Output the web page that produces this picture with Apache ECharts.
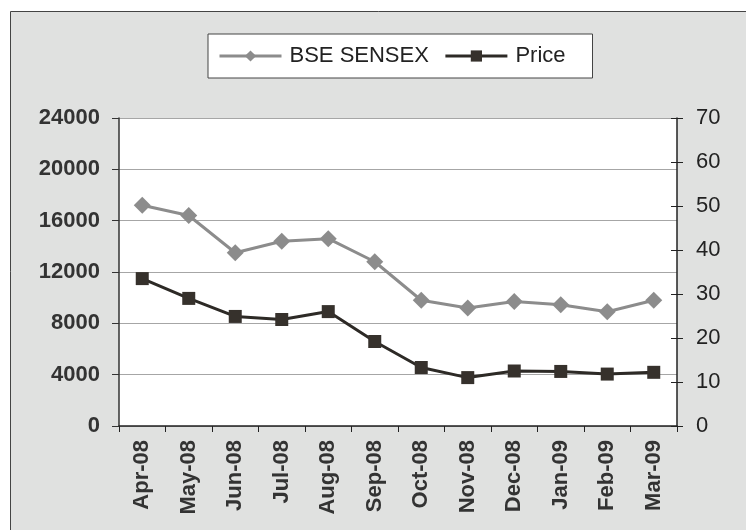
<!DOCTYPE html>
<html><head><meta charset="utf-8">
<script src="https://cdn.jsdelivr.net/npm/echarts@6/dist/echarts.min.js"></script>
<style>html,body{margin:0;padding:0;background:#fff}#c{width:746px;height:530px}</style>
</head><body><div id="c"></div>
<script>
const categories = ['Apr-08','May-08','Jun-08','Jul-08','Aug-08','Sep-08','Oct-08','Nov-08','Dec-08','Jan-09','Feb-09','Mar-09'];
const sensex = [17200,16400,13500,14400,14600,12800,9800,9200,9700,9450,8900,9800];
const price = [33.5,29.0,24.9,24.2,26.0,19.2,13.3,11.0,12.5,12.4,11.8,12.2];
const leftTicks = [0,4000,8000,12000,16000,20000,24000];
const rightTicks = [0,10,20,30,40,50,60,70];

const chart = echarts.init(document.getElementById('c'), null, {renderer:'canvas'});
const font = '"Liberation Sans", Arial, sans-serif';
chart.setOption({
  animation:false,
  backgroundColor:'#ffffff',
  graphic:[{type:'rect',left:10,top:11,shape:{width:760,height:540},style:{fill:'#e0e1e0',stroke:'#444',lineWidth:1},z:-10,silent:true}],
  legend:{
    left:208, top:34, padding:[11,27,11,10], borderColor:'#444', borderWidth:1, backgroundColor:'#fff',
    itemWidth:62, itemHeight:14, itemGap:15,
    lineStyle:{width:3},
    textStyle:{fontFamily:font,fontSize:22,color:'#222',padding:[0,0,0,3]},
    data:['BSE SENSEX','Price']
  },
  grid:{left:119,right:69,top:118,bottom:104,containLabel:false,show:true,backgroundColor:'#fff',borderWidth:0},
  xAxis:{
    type:'category', data:categories, boundaryGap:true,
    axisLine:{lineStyle:{color:'#222',width:1.5}},
    axisTick:{show:true,length:6,lineStyle:{color:'#222'}},
    axisLabel:{rotate:90,margin:14,fontFamily:font,fontWeight:'bold',fontSize:22,color:'#333'}
  },
  yAxis:[{
    type:'value', min:0, max:24000, interval:4000, position:'left',
    axisLine:{show:true,lineStyle:{color:'#333',width:1.5}},
    axisTick:{show:true,length:7,lineStyle:{color:'#333'}},
    splitLine:{show:true,lineStyle:{color:'#a6a6a6',width:1}},
    axisLabel:{margin:19,fontFamily:font,fontWeight:'bold',fontSize:22,color:'#333',
      formatter:v=>leftTicks.includes(v)?String(v):''}
  },{
    type:'value', min:0, max:70, interval:10, position:'right',
    axisLine:{show:true,lineStyle:{color:'#222',width:1.5}},
    axisTick:{show:true,length:6,lineStyle:{color:'#222'}},
    splitLine:{show:false},
    axisLabel:{margin:19,fontFamily:font,fontSize:22,color:'#222',
      formatter:v=>rightTicks.includes(v)?String(v):''}
  },{
    type:'value', min:0, max:70, interval:10, position:'right',
    axisLine:{show:false},
    axisTick:{show:true,inside:true,length:6,lineStyle:{color:'#222'}},
    splitLine:{show:false}, axisLabel:{show:false}
  }],
  series:[{
    name:'BSE SENSEX', type:'line', yAxisIndex:0, data:sensex,
    symbol:'diamond', symbolSize:17,
    lineStyle:{color:'#8c8c8c',width:3}, itemStyle:{color:'#8c8c8c'}
  },{
    name:'Price', type:'line', yAxisIndex:1, data:price,
    symbol:'rect', symbolSize:13,
    lineStyle:{color:'#2d2a26',width:3}, itemStyle:{color:'#36312c'}
  }]
});
</script></body></html>
